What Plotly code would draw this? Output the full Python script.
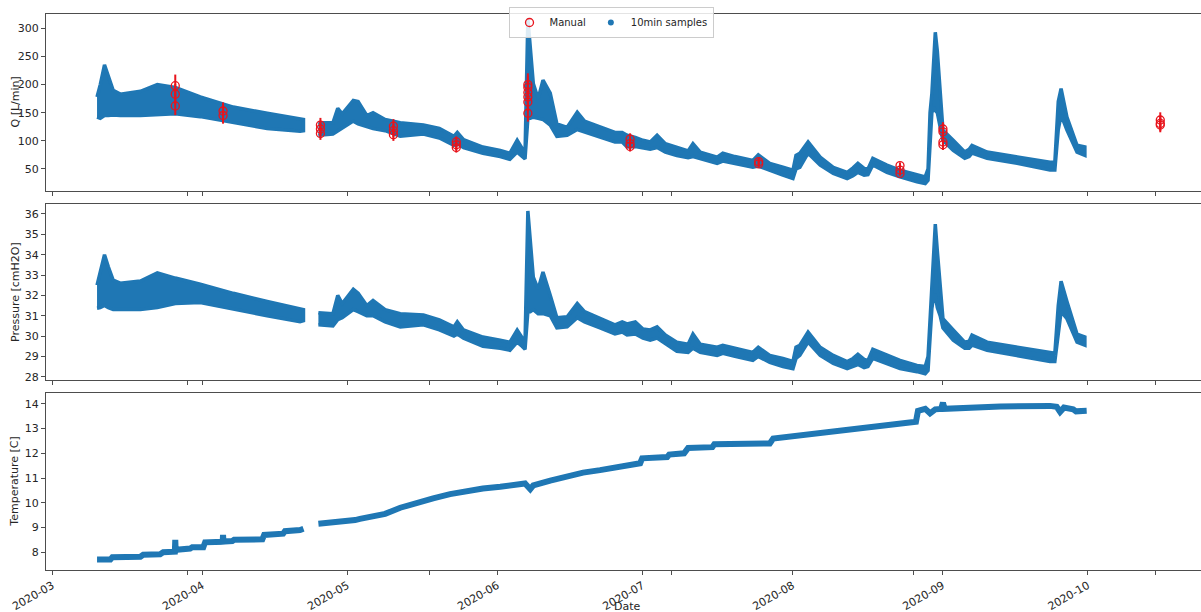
import plotly.graph_objects as go
from plotly.subplots import make_subplots

# ---------------- data ----------------
# 10-min flow samples: envelope (lower / upper) per date; None = logger gap
q_dates = ["2020-03-10 06:00", "2020-03-10 22:00", "2020-03-11 19:00", "2020-03-12 14:00", "2020-03-13 14:00",
           "2020-03-15 01:00", "2020-03-19 05:00", "2020-03-22 17:00", "2020-03-26 10:00", "2020-03-31 14:00",
           "2020-04-07 10:00", "2020-04-14 10:00", "2020-04-21 05:00", "2020-04-21 22:00", None,
           "2020-04-25 00:00", "2020-04-28 00:00", "2020-04-29 00:00", "2020-04-29 22:00", "2020-05-02 05:00",
           "2020-05-03 05:00", "2020-05-05 00:00", "2020-05-06 07:00", "2020-05-08 19:00", "2020-05-11 22:00",
           "2020-05-16 17:00", "2020-05-20 00:00", "2020-05-23 00:00", "2020-05-23 17:00", "2020-05-25 00:00",
           "2020-05-29 00:00", "2020-06-01 14:00", "2020-06-03 14:00", "2020-06-05 02:00", "2020-06-06 02:00",
           "2020-06-06 17:00", "2020-06-07 07:00", "2020-06-07 19:00", "2020-06-08 10:00", "2020-06-09 10:00",
           "2020-06-10 10:00", "2020-06-11 22:00", "2020-06-13 07:00", "2020-06-15 10:00", "2020-06-17 12:00",
           "2020-06-19 00:00", "2020-06-22 05:00", "2020-06-25 07:00", "2020-06-26 19:00", "2020-06-27 19:00",
           "2020-06-29 12:00", "2020-07-01 02:00", "2020-07-02 14:00", "2020-07-04 00:00", "2020-07-05 17:00",
           "2020-07-08 02:00", "2020-07-10 10:00", "2020-07-11 10:00", "2020-07-12 22:00", "2020-07-16 10:00",
           "2020-07-17 14:00", "2020-07-20 02:00", "2020-07-23 19:00", "2020-07-24 22:00", "2020-07-27 07:00",
           "2020-07-30 00:00", "2020-08-01 02:00", "2020-08-01 17:00", "2020-08-02 12:00", "2020-08-04 05:00",
           "2020-08-06 17:00", "2020-08-09 10:00", "2020-08-12 07:00", "2020-08-13 12:00", "2020-08-14 12:00",
           "2020-08-15 19:00", "2020-08-16 14:00", "2020-08-17 14:00", "2020-08-20 12:00", "2020-08-23 05:00",
           "2020-08-26 17:00", "2020-08-28 10:00", "2020-08-29 00:00", "2020-08-29 10:00", "2020-08-29 19:00",
           "2020-08-30 05:00", "2020-08-30 12:00", "2020-08-30 22:00", "2020-08-31 12:00", "2020-09-01 02:00",
           "2020-09-03 05:00", "2020-09-05 14:00", "2020-09-06 12:00", "2020-09-07 02:00", "2020-09-10 05:00",
           "2020-09-16 10:00", "2020-09-23 05:00", "2020-09-24 05:00", "2020-09-24 22:00", "2020-09-25 12:00",
           "2020-09-26 17:00", "2020-09-28 19:00", "2020-09-30 10:00"]
q_low = [142, 140, 145, 145, 146, 145, 145, 146, 148, 143, 133, 122, 117, 118, None,
         110, 112, 118, 122, 135, 130, 125, 122, 118, 108, 112, 105, 92, 95, 88,
         78, 72, 67, 80, 72, 68, 140, 140, 142, 140, 138, 128, 108, 110, 120,
         115, 107, 98, 98, 89, 90, 87, 85, 88, 80, 74, 70, 72, 68, 60,
         64, 60, 53, 55, 48, 39, 33, 50, 53, 78, 57, 42, 33, 38, 44,
         39, 40, 57, 44, 36, 27, 24, 30, 100, 150, 160, 154, 150, 125, 101,
         83, 69, 72, 78, 69, 60, 48, 48, 120, 146, 119, 80, 74]
q_high = [178, 200, 235, 215, 190, 183, 188, 200, 195, 178, 160, 149, 140, 138, None,
          132, 132, 158, 148, 172, 170, 145, 150, 138, 132, 128, 122, 108, 115, 102,
          89, 83, 78, 101, 88, 78, 318, 260, 202, 175, 208, 185, 130, 124, 151,
          135, 124, 115, 115, 110, 106, 101, 98, 110, 95, 89, 82, 95, 80, 71,
          78, 72, 65, 75, 60, 53, 48, 74, 78, 98, 71, 53, 44, 52, 60,
          51, 50, 69, 57, 48, 39, 36, 50, 150, 184, 250, 293, 260, 185, 119,
          101, 80, 85, 92, 80, 71, 62, 62, 170, 193, 142, 92, 89]

# 10-min pressure samples, same dates
p_low = [31.37, 31.4, 31.5, 31.4, 31.3, 31.3, 31.3, 31.4, 31.6, 31.65, 31.35, 31.0, 30.7, 30.75, None,
         30.55, 30.5, 30.8, 30.9, 31.3, 31.2, 31.0, 31.0, 30.7, 30.45, 30.55, 30.3, 30.0, 30.1, 29.9,
         29.5, 29.4, 29.3, 29.7, 29.5, 29.35, 31.2, 31.2, 31.3, 31.1, 31.1, 31.0, 30.4, 30.45, 30.9,
         30.7, 30.4, 30.1, 30.2, 30.05, 30.1, 29.9, 29.8, 29.9, 29.6, 29.25, 29.2, 29.4, 29.2, 29.05,
         29.15, 29.0, 28.8, 29.0, 28.7, 28.5, 28.4, 28.9, 29.05, 29.7, 29.05, 28.65, 28.4, 28.5, 28.6,
         28.45, 28.5, 28.9, 28.65, 28.4, 28.25, 28.15, 28.3, 29.9, 31.35, 32.0, 32.0, 31.4, 31.0, 30.4,
         29.8, 29.4, 29.4, 29.55, 29.3, 29.05, 28.75, 28.75, 30.2, 31.2, 30.85, 29.7, 29.55]
p_high = [32.5, 33.2, 34.0, 33.4, 32.75, 32.6, 32.7, 33.1, 32.85, 32.55, 32.1, 31.7, 31.35, 31.3, None,
          31.15, 31.1, 32.0, 31.6, 32.3, 32.1, 31.5, 31.75, 31.3, 31.1, 31.03, 30.8, 30.45, 30.7, 30.3,
          29.95, 29.8, 29.7, 30.3, 29.95, 29.7, 36.15, 34.5, 32.9, 32.3, 33.15, 32.0, 30.9, 30.95, 31.6,
          31.2, 30.85, 30.55, 30.7, 30.6, 30.7, 30.35, 30.3, 30.45, 30.05, 29.7, 29.6, 30.1, 29.6, 29.45,
          29.55, 29.4, 29.2, 29.45, 29.05, 28.9, 28.75, 29.45, 29.55, 30.2, 29.45, 29.05, 28.75, 28.9, 29.1,
          28.85, 28.8, 29.35, 29.05, 28.8, 28.55, 28.5, 29.0, 31.0, 32.65, 34.6, 35.5, 34.2, 32.3, 30.85,
          30.3, 29.7, 29.75, 30.05, 29.7, 29.45, 29.2, 29.15, 31.5, 32.7, 31.7, 30.1, 29.95]

# 10-min temperature samples
t_dates = ["2020-03-10 06:00", "2020-03-13 00:00", "2020-03-13 10:00", "2020-03-19 05:00", "2020-03-19 19:00",
           "2020-03-23 07:00", "2020-03-23 22:00", "2020-03-26 08:00", "2020-03-26 10:00", "2020-03-26 12:00",
           "2020-03-26 19:00", "2020-03-29 12:00", "2020-03-29 22:00", "2020-04-01 05:00", "2020-04-01 14:00",
           "2020-04-05 05:00", "2020-04-05 07:00", "2020-04-05 09:00", "2020-04-07 05:00", "2020-04-07 14:00",
           "2020-04-13 10:00", "2020-04-13 19:00", "2020-04-17 17:00", "2020-04-18 02:00", "2020-04-21 05:00",
           "2020-04-21 22:00", None,
           "2020-04-25 00:00", "2020-04-28 12:00", "2020-04-29 12:00", "2020-05-02 14:00", "2020-05-03 14:00",
           "2020-05-06 17:00", "2020-05-08 19:00", "2020-05-11 22:00", "2020-05-16 00:00", "2020-05-18 17:00",
           "2020-05-22 05:00", "2020-05-25 17:00", "2020-05-29 00:00", "2020-06-01 14:00", "2020-06-05 02:00",
           "2020-06-06 17:00", "2020-06-07 19:00", "2020-06-08 10:00", "2020-06-11 22:00", "2020-06-15 10:00",
           "2020-06-18 17:00", "2020-06-22 05:00", "2020-06-25 17:00", "2020-06-29 00:00", "2020-06-30 12:00",
           "2020-06-30 22:00", "2020-07-06 02:00", "2020-07-06 12:00", "2020-07-09 14:00", "2020-07-10 10:00",
           "2020-07-15 10:00", "2020-07-15 20:00", "2020-07-27 07:00", "2020-07-28 00:00", "2020-07-31 12:00",
           "2020-08-02 12:00", "2020-08-08 17:00", "2020-08-12 22:00", "2020-08-16 10:00", "2020-08-19 17:00",
           "2020-08-23 05:00", "2020-08-26 12:00", "2020-08-26 22:00", "2020-08-28 10:00", "2020-08-29 10:00",
           "2020-08-30 12:00", "2020-08-31 17:00", "2020-09-01 02:00", "2020-09-01 10:00", "2020-09-06 00:00",
           "2020-09-12 22:00", "2020-09-23 05:00", "2020-09-24 14:00", "2020-09-25 07:00", "2020-09-26 02:00",
           "2020-09-28 00:00", "2020-09-28 14:00", "2020-09-30 19:00"]
t_vals = [7.7, 7.7, 7.8, 7.82, 7.9, 7.92, 8.0, 8.02, 8.5, 8.05, 8.1, 8.15, 8.2, 8.2, 8.4,
          8.42, 8.7, 8.43, 8.45, 8.5, 8.52, 8.7, 8.75, 8.85, 8.9, 8.95, None,
          9.15, 9.2, 9.25, 9.3, 9.35, 9.45, 9.55, 9.8, 10.05, 10.18, 10.35, 10.48, 10.58, 10.65, 10.73,
          10.78, 10.55, 10.7, 10.9, 11.08, 11.22, 11.32, 11.45, 11.58, 11.6, 11.8, 11.85, 11.95, 12.0,
          12.22, 12.25, 12.37, 12.4, 12.6, 12.68, 12.78, 12.88, 13.02, 13.08, 13.18, 13.25, 13.28, 13.72,
          13.8, 13.62, 13.78, 13.8, 14.05, 13.8, 13.85, 13.9, 13.92, 13.88, 13.68, 13.85, 13.78, 13.7, 13.72]

# Manual flow measurements (±10 % error bars)
manual_dates = ["2020-03-26 10:00"] * 3 + ["2020-04-05 07:00"] * 2 + ["2020-04-25 10:00"] * 3 + \
               ["2020-05-10 12:00"] * 3 + ["2020-05-23 12:00"] * 3 + ["2020-06-07 07:00"] * 6 + \
               ["2020-06-28 10:00"] * 3 + ["2020-07-25 00:00"] * 2 + ["2020-08-23 05:00"] * 3 + \
               ["2020-09-01 02:00"] * 4 + ["2020-10-16 00:00"] * 3
manual_q = [198, 183, 162, 153, 145, 128, 121, 113, 126, 118, 111, 98, 93, 88,
            200, 195, 186, 178, 169, 149, 103, 95, 90, 63, 59, 56, 48, 42,
            121, 116, 98, 93, 137, 131, 128]

month_ticks = ["2020-03-01", "2020-04-01", "2020-05-01", "2020-06-01", "2020-07-01",
               "2020-08-01", "2020-09-01", "2020-10-01"]
tick_labels = ["2020-03", "2020-04", "2020-05", "2020-06", "2020-07", "2020-08", "2020-09", "2020-10"]

# ---------------- figure ----------------
BLUE = "#1f77b4"
RED = "#e8141c"
TXT = "#262626"
SPINE = "#4d4d4d"
W, H = 1201, 612
ML, MR, MT, MB = 46, 0, 14, 42
PH = H - MT - MB
PW = W - ML - MR


def segments(dates, lo, hi):
    out, cur = [], ([], [], [])
    for d, l, h in zip(dates, lo, hi):
        if d is None:
            if cur[0]:
                out.append(cur)
            cur = ([], [], [])
            continue
        cur[0].append(d)
        cur[1].append(l)
        cur[2].append(h)
    if cur[0]:
        out.append(cur)
    return out


fig = make_subplots(rows=3, cols=1, shared_xaxes=True)

for row, lo, hi in ((1, q_low, q_high), (2, p_low, p_high)):
    for d, l, h in segments(q_dates, lo, hi):
        fig.add_trace(go.Scatter(
            x=d + d[::-1], y=h + l[::-1], mode="lines", fill="toself",
            fillcolor=BLUE, line=dict(color=BLUE, width=3.5, shape="linear"),
            showlegend=False, hoverinfo="skip"), row=row, col=1)

fig.add_trace(go.Scatter(x=t_dates, y=t_vals, mode="lines", connectgaps=False,
                         line=dict(color=BLUE, width=6), showlegend=False), row=3, col=1)

fig.add_trace(go.Scatter(
    x=manual_dates, y=manual_q, mode="markers", name="Manual",
    marker=dict(symbol="circle-open", color=RED, size=8, line=dict(width=1.3, color=RED)),
    error_y=dict(type="percent", value=10, color=RED, thickness=2, width=0),
    legendrank=1), row=1, col=1)

# legend entry for the 10-min samples
fig.add_trace(go.Scatter(x=[None], y=[None], mode="markers", name="10min samples",
                         marker=dict(color=BLUE, size=6), legendrank=2), row=1, col=1)

xrange = ["2020-02-28 16:48", "2020-10-24 10:00"]
font = dict(family="DejaVu Sans", size=11, color=TXT)


def py(pix):
    return (H - MB - pix) / PH


doms = [(py(191), 1.0), (py(380), py(204)), (0.0, py(393.3))]
yranges = [[10.8, 325.5], [27.84, 36.49], [7.28, 14.43]]
ydticks = [50, 1, 1]
ytitles = ["Q [L/min]", "Pressure [cmH2O]", "Temperature [C]"]

for i in range(3):
    sx = "" if i == 0 else str(i + 1)
    fig.layout["xaxis" + sx].update(
        type="date", range=xrange, tickvals=month_ticks, ticktext=tick_labels,
        showticklabels=(i == 2), tickangle=-30, ticks="outside", ticklen=4, tickcolor=SPINE,
        showline=True, linecolor=SPINE, linewidth=1, mirror=True, showgrid=False, zeroline=False,
        tickfont=font, automargin=False,
        minor=dict(ticks="outside", ticklen=4, tickcolor=SPINE, dtick=50 * 86400000,
                   tick0="2020-03-29", showgrid=False))
    fig.layout["yaxis" + sx].update(
        domain=list(doms[i]), range=yranges[i], dtick=ydticks[i], ticks="outside", ticklen=4,
        tickcolor=SPINE, showline=True, linecolor=SPINE, linewidth=1, mirror=False,
        showgrid=False, zeroline=False, tickfont=font, automargin=False)
    yc = (doms[i][0] + doms[i][1]) / 2
    fig.add_annotation(text=ytitles[i], xref="paper", yref="paper", x=(15 - ML) / PW,
                       y=yc, textangle=-90, showarrow=False, font=font,
                       xanchor="center", yanchor="middle")

fig.add_annotation(text="Date", xref="paper", yref="paper", x=(628 - ML) / PW,
                   y=py(606), showarrow=False, font=font, xanchor="center", yanchor="middle")

fig.update_layout(
    width=W, height=H, margin=dict(l=ML, r=MR, t=MT, b=MB, autoexpand=False),
    plot_bgcolor="white", paper_bgcolor="white", font=font,
    legend=dict(orientation="h", x=611 / W, xref="container", xanchor="center",
                y=1 - 7 / H, yref="container", yanchor="top", bgcolor="rgba(255,255,255,0.85)",
                bordercolor="#cccccc", borderwidth=1, itemwidth=30,
                font=dict(family="DejaVu Sans", size=10, color=TXT)),
    showlegend=True)

fig.write_html("out.html", config={"displayModeBar": False},
               post_script="document.body.style.margin='0';document.body.style.overflow='hidden';")
